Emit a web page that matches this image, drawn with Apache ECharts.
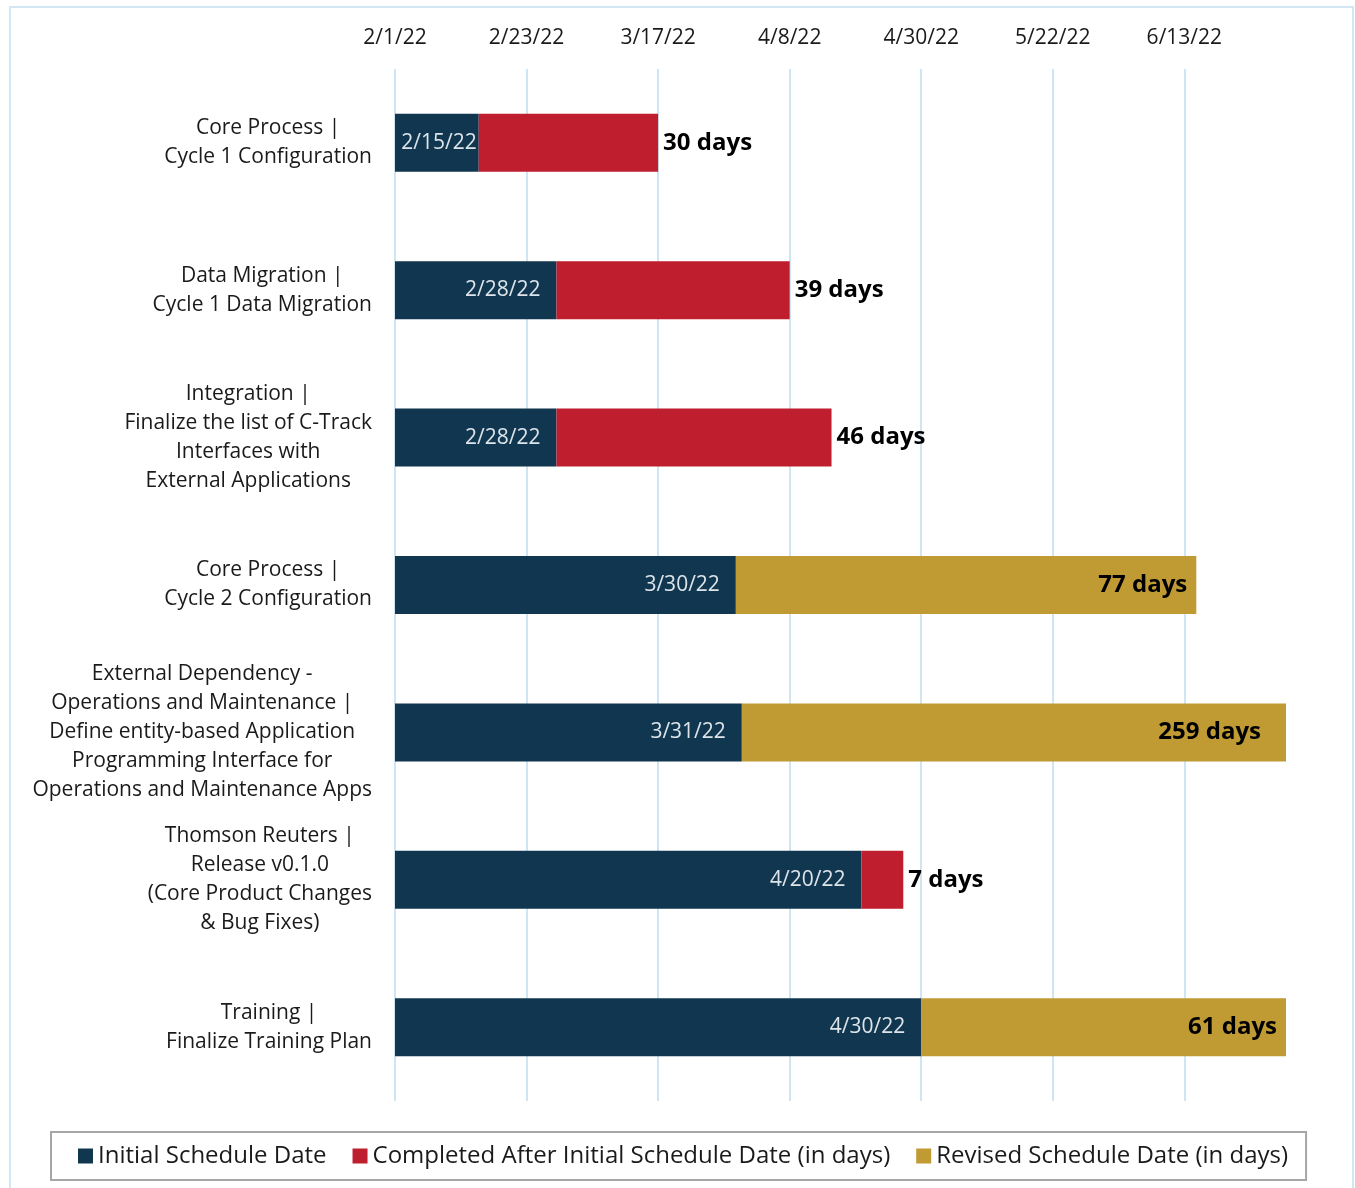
<!DOCTYPE html>
<html>
<head>
<meta charset="utf-8">
<script src="https://cdn.jsdelivr.net/npm/echarts@6/dist/echarts.min.js"></script>
<style>
  html, body { margin: 0; padding: 0; background: #fff; }
  #main { width: 1355px; height: 1188px; }
</style>
</head>
<body>
<div id="main"></div>
<script>
// tasks, top to bottom
const tasks = [
  'Core Process |\nCycle 1 Configuration',
  'Data Migration |\nCycle 1 Data Migration',
  'Integration |\nFinalize the list of C-Track\nInterfaces with\nExternal Applications',
  'Core Process |\nCycle 2 Configuration',
  'External Dependency -\nOperations and Maintenance |\nDefine entity-based Application\nProgramming Interface for\nOperations and Maintenance Apps',
  'Thomson Reuters |\nRelease v0.1.0\n(Core Product Changes\n& Bug Fixes)',
  'Training |\nFinalize Training Plan'
];
const initialDates = ['2/15/22', '2/28/22', '2/28/22', '3/30/22', '3/31/22', '4/20/22', '4/30/22'];
const completedDays = [30, 39, 46, null, null, 7, null];
const revisedDays = [null, null, null, 77, 259, null, 61];

const axisStart = '2/1/22';
const axisEnd = '6/30/22';
const tickStep = 22; // days

const DAY = 86400000;
function parseDate(s) {
  const p = s.split('/').map(Number);
  return Date.UTC(2000 + p[2], p[0] - 1, p[1]);
}
const base = parseDate(axisStart);
function toOffset(s) { return Math.round((parseDate(s) - base) / DAY); }
function fmtDate(off) {
  const d = new Date(base + off * DAY);
  return (d.getUTCMonth() + 1) + '/' + d.getUTCDate() + '/' + String(d.getUTCFullYear()).slice(2);
}

const initialOffsets = initialDates.map(toOffset);

const chart = echarts.init(document.getElementById('main'));

const option = {
  textStyle: { fontFamily: 'Open Sans' },
  animation: false,
  graphic: [{
    type: 'rect',
    shape: { x: 10, y: 7, width: 1343, height: 1220 },
    style: { fill: 'none', stroke: '#d3e6f3', lineWidth: 2 },
    z: -1
  }],
  grid: { left: 395, right: 69, top: 69, bottom: 87 },
  legend: {
    bottom: 8,
    left: 51,
    icon: 'rect',
    itemWidth: 15,
    itemHeight: 15,
    itemGap: 26,
    padding: [12, 18, 12, 27],
    borderColor: '#a6a6a6',
    borderWidth: 2,
    textStyle: { fontSize: 24, color: '#1a1a1a', fontFamily: 'Open Sans' },
    data: ['Initial Schedule Date', 'Completed After Initial Schedule Date (in days)', 'Revised Schedule Date (in days)']
  },
  xAxis: {
    type: 'value',
    position: 'top',
    min: 0,
    max: toOffset(axisEnd),
    interval: tickStep,
    axisLine: { show: false },
    axisTick: { show: false },
    axisLabel: {
      margin: 20,
      fontSize: 21,
      color: '#1a1a1a',
      showMaxLabel: false,
      formatter: v => fmtDate(v)
    },
    splitLine: {
      show: true,
      showMaxLine: false,
      lineStyle: { color: '#cfe5f3', width: 2 }
    }
  },
  yAxis: {
    type: 'category',
    inverse: true,
    data: tasks,
    axisLine: { show: false },
    axisTick: { show: false },
    axisLabel: {
      margin: 23,
      fontSize: 21,
      color: '#1a1a1a',
      lineHeight: 29,
      formatter: v => v.split('\n').map(l => '{c|' + l + '}').join('\n'),
      rich: { c: { align: 'center', fontSize: 21, lineHeight: 29, color: '#1a1a1a', fontFamily: 'Open Sans' } }
    }
  },
  series: [
    {
      name: 'Initial Schedule Date',
      type: 'bar',
      stack: 'sched',
      barWidth: 58,
      itemStyle: { color: '#10374f' },
      label: {
        show: true,
        position: 'insideRight',
        distance: 16,
        fontSize: 21,
        color: '#dde4ea',
        formatter: p => initialDates[p.dataIndex]
      },
      data: initialOffsets.map((v, i) => i === 0 ? { value: v, label: { distance: 2 } } : v)
    },
    {
      name: 'Completed After Initial Schedule Date (in days)',
      type: 'bar',
      stack: 'sched',
      barWidth: 58,
      itemStyle: { color: '#be1e2d' },
      label: {
        show: true,
        position: 'right',
        distance: 5,
        fontSize: 24,
        fontWeight: 'bold',
        color: '#000',
        formatter: '{c} days'
      },
      data: completedDays
    },
    {
      name: 'Revised Schedule Date (in days)',
      type: 'bar',
      stack: 'sched',
      barWidth: 58,
      itemStyle: { color: '#c09b34' },
      label: {
        show: true,
        position: 'insideRight',
        distance: 9,
        fontSize: 24,
        fontWeight: 'bold',
        color: '#000',
        formatter: '{c} days'
      },
      data: revisedDays.map((v, i) => i === 4 ? { value: v, label: { distance: 25 } } : v)
    }
  ]
};

chart.setOption(option);
</script>
</body>
</html>
